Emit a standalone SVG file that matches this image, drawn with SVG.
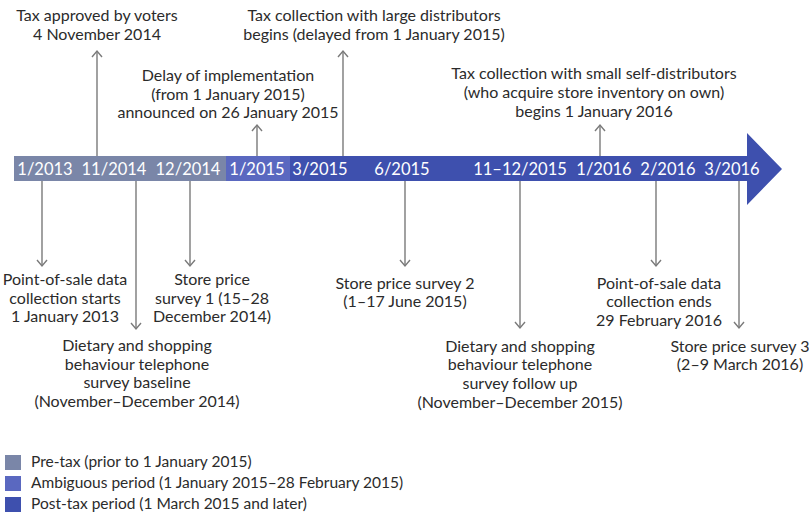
<svg xmlns="http://www.w3.org/2000/svg" width="809" height="519" viewBox="0 0 809 519">
<defs>
<marker id="ah" viewBox="0 0 10 12" refX="7" refY="6" markerWidth="10" markerHeight="12" markerUnits="userSpaceOnUse" orient="auto">
<path d="M1,1 L7,6 L1,11" fill="none" stroke="#7a7a7a" stroke-width="1.4"/>
</marker>
<style>
text{font-family:Lato,"Noto Sans",sans-serif;font-size:16px;fill:#2b2b2b;text-anchor:middle}
.bar{fill:#ffffff;font-size:16.5px}
.leg{text-anchor:start;font-size:15.5px}
.c{stroke:#7a7a7a;stroke-width:1.4;fill:none;marker-end:url(#ah)}
</style>
</defs>
<rect width="809" height="519" fill="#ffffff"/>
<g id="timeline">
<rect x="14" y="156" width="212" height="25" fill="#7a86a8"/>
<rect x="226" y="156" width="64" height="25" fill="#5a68c0"/>
<path d="M290,156 H747 V133 L782,169 L747,205 V181 H290 Z" fill="#3e50ae"/>
<text class="bar" x="45" y="175">1/2013</text>
<text class="bar" x="114" y="175">11/2014</text>
<text class="bar" x="188" y="175">12/2014</text>
<text class="bar" x="257" y="175">1/2015</text>
<text class="bar" x="320" y="175">3/2015</text>
<text class="bar" x="402" y="175">6/2015</text>
<text class="bar" x="520" y="175">11–12/2015</text>
<text class="bar" x="604" y="175">1/2016</text>
<text class="bar" x="668" y="175">2/2016</text>
<text class="bar" x="732" y="175">3/2016</text>
</g>
<g id="connectors">
<line class="c" x1="97" y1="156" x2="97" y2="51"/>
<line class="c" x1="257" y1="156" x2="257" y2="125"/>
<line class="c" x1="343" y1="156" x2="343" y2="51"/>
<line class="c" x1="600" y1="156" x2="600" y2="125"/>
<line class="c" x1="42" y1="181" x2="42" y2="266"/>
<line class="c" x1="136" y1="181" x2="136" y2="329"/>
<line class="c" x1="190" y1="181" x2="190" y2="266"/>
<line class="c" x1="405" y1="181" x2="405" y2="266"/>
<line class="c" x1="520" y1="181" x2="520" y2="328"/>
<line class="c" x1="656" y1="181" x2="656" y2="266"/>
<line class="c" x1="739" y1="181" x2="739" y2="328"/>
</g>
<g id="n-approved">
<text x="97" y="21">Tax approved by voters</text>
<text x="97" y="40">4 November 2014</text>
</g>
<g id="n-delay">
<text x="228" y="81">Delay of implementation</text>
<text x="228" y="100">(from 1 January 2015)</text>
<text x="228" y="118">announced on 26 January 2015</text>
</g>
<g id="n-large">
<text x="374" y="21">Tax collection with large distributors</text>
<text x="374" y="40">begins (delayed from 1 January 2015)</text>
</g>
<g id="n-small">
<text x="594" y="79">Tax collection with small self-distributors</text>
<text x="594" y="98">(who acquire store inventory on own)</text>
<text x="594" y="117">begins 1 January 2016</text>
</g>
<g id="n-pos-start">
<text x="65" y="285">Point-of-sale data</text>
<text x="65" y="304">collection starts</text>
<text x="65" y="322">1 January 2013</text>
</g>
<g id="n-diet-base">
<text x="137" y="351">Dietary and shopping</text>
<text x="137" y="370">behaviour telephone</text>
<text x="137" y="388">survey baseline</text>
<text x="137" y="407">(November–December 2014)</text>
</g>
<g id="n-survey1">
<text x="212" y="285">Store price</text>
<text x="212" y="304">survey 1 (15–28</text>
<text x="212" y="322">December 2014)</text>
</g>
<g id="n-survey2">
<text x="405" y="289">Store price survey 2</text>
<text x="405" y="307">(1–17 June 2015)</text>
</g>
<g id="n-diet-follow">
<text x="520" y="352">Dietary and shopping</text>
<text x="520" y="370">behaviour telephone</text>
<text x="520" y="389">survey follow up</text>
<text x="520" y="408">(November–December 2015)</text>
</g>
<g id="n-pos-end">
<text x="659" y="289">Point-of-sale data</text>
<text x="659" y="307">collection ends</text>
<text x="659" y="326">29 February 2016</text>
</g>
<g id="n-survey3">
<text x="740" y="352">Store price survey 3</text>
<text x="740" y="370">(2–9 March 2016)</text>
</g>
<g id="legend">
<rect x="5" y="455" width="16" height="15" fill="#7a86a8"/>
<rect x="5" y="476" width="16" height="15" fill="#5a68c0"/>
<rect x="5" y="497" width="16" height="15" fill="#3e50ae"/>
<text class="leg" x="31" y="467">Pre-tax (prior to 1 January 2015)</text>
<text class="leg" x="31" y="488">Ambiguous period (1 January 2015–28 February 2015)</text>
<text class="leg" x="31" y="509">Post-tax period (1 March 2015 and later)</text>
</g>
</svg>
